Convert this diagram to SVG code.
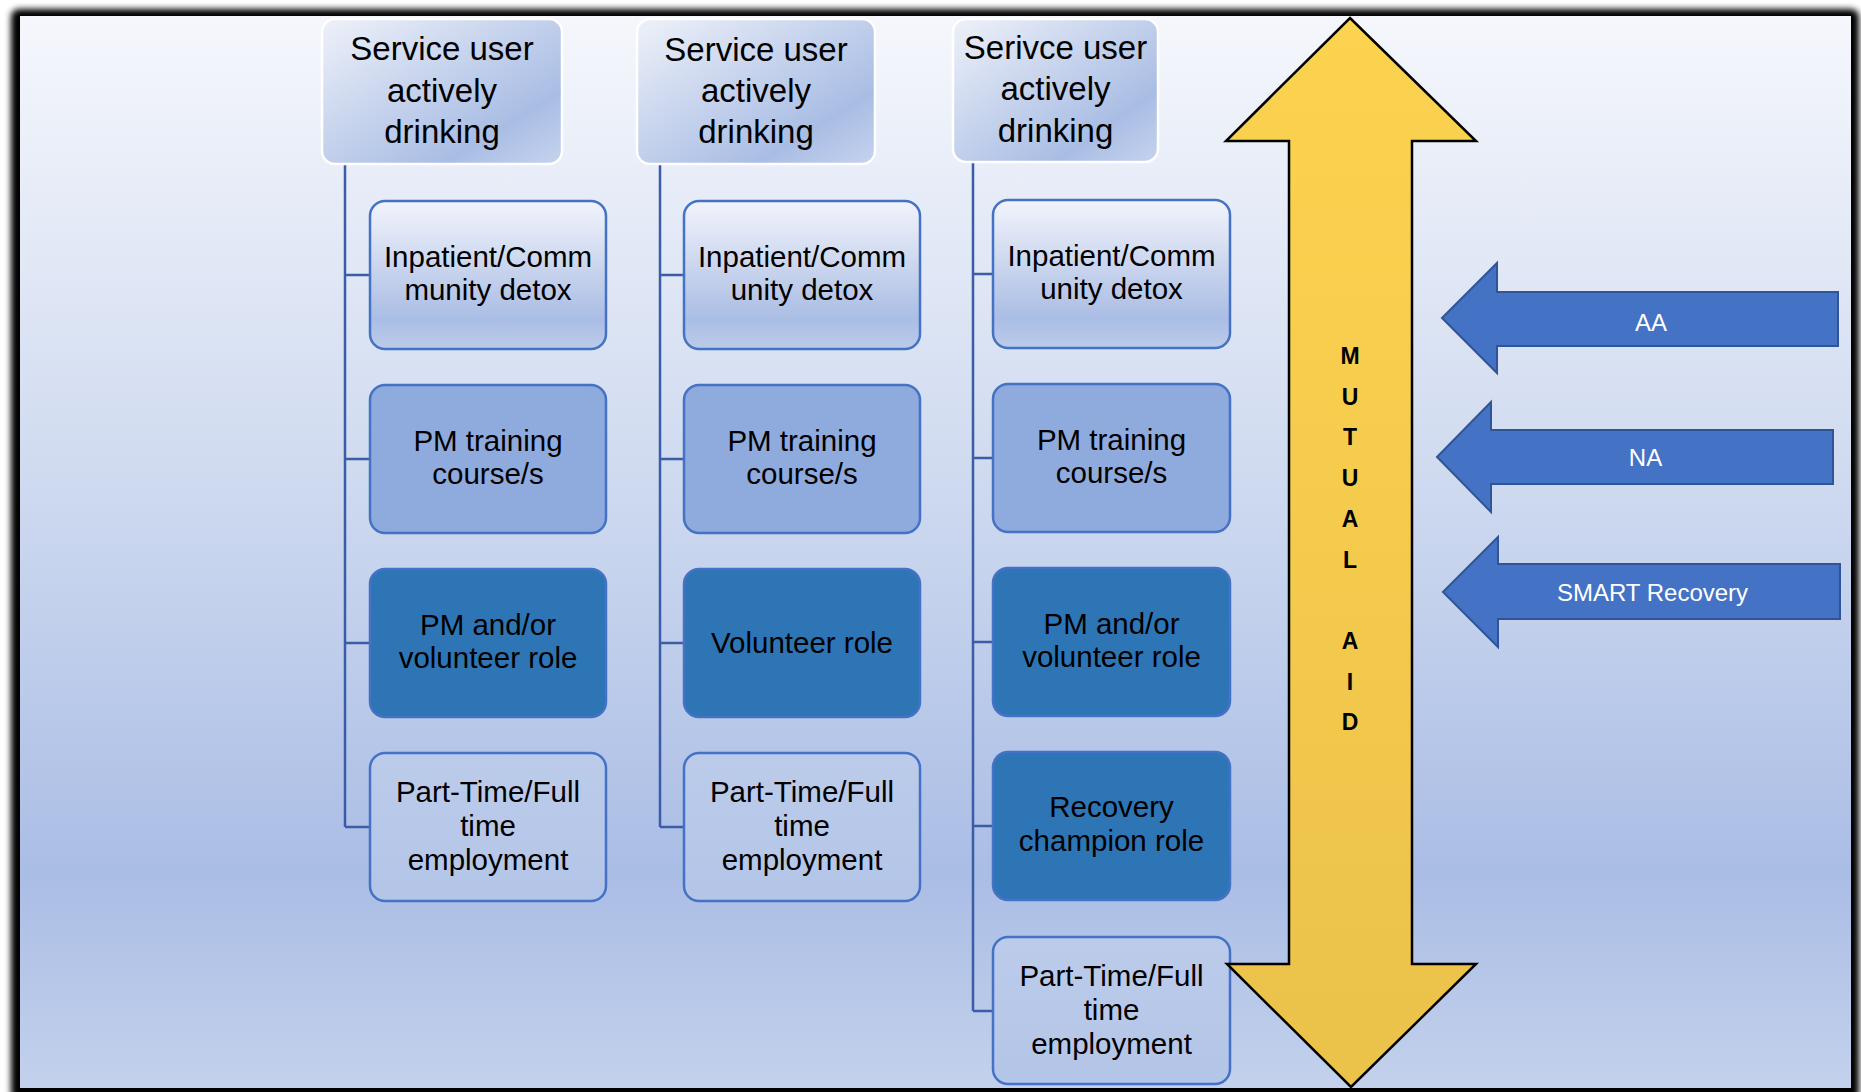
<svg xmlns="http://www.w3.org/2000/svg" width="1861" height="1092" viewBox="0 0 1861 1092">
  <defs>
    <filter id="soft" x="-5%" y="-5%" width="110%" height="110%">
      <feGaussianBlur stdDeviation="3"/>
    </filter>
    <linearGradient id="gBg" x1="0" y1="0" x2="0" y2="1">
      <stop offset="0" stop-color="#f5f7fc"/>
      <stop offset="0.42" stop-color="#d0dbf0"/>
      <stop offset="0.8" stop-color="#aabde5"/>
      <stop offset="1" stop-color="#c3d1ec"/>
    </linearGradient>
    <linearGradient id="gTop" x1="0" y1="0" x2="1" y2="1">
      <stop offset="0" stop-color="#eef1f9"/>
      <stop offset="0.75" stop-color="#a9bde4"/>
      <stop offset="1" stop-color="#c6d3ee"/>
    </linearGradient>
    <linearGradient id="gLight" x1="0" y1="0" x2="0" y2="1">
      <stop offset="0" stop-color="#f2f4fb"/>
      <stop offset="0.8" stop-color="#aabde4"/>
      <stop offset="1" stop-color="#bccbea"/>
    </linearGradient>
    <linearGradient id="gPart" x1="0" y1="0" x2="0" y2="1">
      <stop offset="0" stop-color="#bccbea"/>
      <stop offset="1" stop-color="#b3c5e8"/>
    </linearGradient>
    <linearGradient id="gGold" x1="0" y1="0" x2="0" y2="1">
      <stop offset="0" stop-color="#fcd34f"/>
      <stop offset="1" stop-color="#ebc24a"/>
    </linearGradient>
    <style>
      .top { fill: url(#gTop); stroke: #ffffff; stroke-width: 2.5; }
      .light { fill: url(#gLight); stroke: #4472c4; stroke-width: 2.5; }
      .part { fill: url(#gPart); stroke: #4472c4; stroke-width: 2.5; }
      .mid { fill: #8faadc; stroke: #4472c4; stroke-width: 2.5; }
      .dark { fill: #2e75b6; stroke: #4472c4; stroke-width: 2.5; }
      .link { fill: none; stroke: #3b5ca6; stroke-width: 2.5; }
      text { font-family: "Liberation Sans", Arial, sans-serif; fill: #000000; text-anchor: middle; }
      .th { font-size: 33px; }
      .tc { font-size: 29.5px; }
      .side { fill: #4472c4; stroke: #2f5597; stroke-width: 2; }
      .side-t { font-size: 24px; fill: #ffffff; }
      .gold { fill: url(#gGold); stroke: #000000; stroke-width: 2.5; stroke-linejoin: miter; }
      .ma { font-size: 23px; font-weight: bold; }
    </style>
  </defs>

  <!-- picture frame and background -->
  <rect x="11" y="9" width="1848" height="1092" rx="8" fill="#000000" filter="url(#soft)"/>
  <rect x="20" y="16" width="1831" height="1072" fill="url(#gBg)"/>

  <!-- connectors -->
  <g id="connectors">
    <path class="link" d="M345 164 V827 M345 275 H370 M345 459 H370 M345 643 H370 M345 827 H370"/>
    <path class="link" d="M660 164 V827 M660 275 H684 M660 459 H684 M660 643 H684 M660 827 H684"/>
    <path class="link" d="M973 162 V1011 M973 274 H993 M973 458 H993 M973 642 H993 M973 826 H993 M973 1011 H993"/>
  </g>

  <!-- column 1 -->
  <g id="c1-head">
    <rect class="top" x="322" y="19" width="240" height="145" rx="13"/>
    <text class="th" x="442" y="60">Service user</text>
    <text class="th" x="442" y="102">actively</text>
    <text class="th" x="442" y="143">drinking</text>
  </g>
  <g id="c1-detox">
    <rect class="light" x="370" y="201" width="236" height="148" rx="15"/>
    <text class="tc" x="488" y="267">Inpatient/Comm</text>
    <text class="tc" x="488" y="300">munity detox</text>
  </g>
  <g id="c1-training">
    <rect class="mid" x="370" y="385" width="236" height="148" rx="15"/>
    <text class="tc" x="488" y="451">PM training</text>
    <text class="tc" x="488" y="484">course/s</text>
  </g>
  <g id="c1-role">
    <rect class="dark" x="370" y="569" width="236" height="148" rx="15"/>
    <text class="tc" x="488" y="635">PM and/or</text>
    <text class="tc" x="488" y="668">volunteer role</text>
  </g>
  <g id="c1-employment">
    <rect class="part" x="370" y="753" width="236" height="148" rx="15"/>
    <text class="tc" x="488" y="802">Part-Time/Full</text>
    <text class="tc" x="488" y="836">time</text>
    <text class="tc" x="488" y="870">employment</text>
  </g>

  <!-- column 2 -->
  <g id="c2-head">
    <rect class="top" x="637" y="19" width="238" height="145" rx="13"/>
    <text class="th" x="756" y="61">Service user</text>
    <text class="th" x="756" y="102">actively</text>
    <text class="th" x="756" y="143">drinking</text>
  </g>
  <g id="c2-detox">
    <rect class="light" x="684" y="201" width="236" height="148" rx="15"/>
    <text class="tc" x="802" y="267">Inpatient/Comm</text>
    <text class="tc" x="802" y="300">unity detox</text>
  </g>
  <g id="c2-training">
    <rect class="mid" x="684" y="385" width="236" height="148" rx="15"/>
    <text class="tc" x="802" y="451">PM training</text>
    <text class="tc" x="802" y="484">course/s</text>
  </g>
  <g id="c2-role">
    <rect class="dark" x="684" y="569" width="236" height="148" rx="15"/>
    <text class="tc" x="802" y="653">Volunteer role</text>
  </g>
  <g id="c2-employment">
    <rect class="part" x="684" y="753" width="236" height="148" rx="15"/>
    <text class="tc" x="802" y="802">Part-Time/Full</text>
    <text class="tc" x="802" y="836">time</text>
    <text class="tc" x="802" y="870">employment</text>
  </g>

  <!-- column 3 -->
  <g id="c3-head">
    <rect class="top" x="953" y="19" width="205" height="143" rx="13"/>
    <text class="th" x="1055.5" y="59">Serivce user</text>
    <text class="th" x="1055.5" y="100">actively</text>
    <text class="th" x="1055.5" y="142">drinking</text>
  </g>
  <g id="c3-detox">
    <rect class="light" x="993" y="200" width="237" height="148" rx="15"/>
    <text class="tc" x="1111.5" y="266">Inpatient/Comm</text>
    <text class="tc" x="1111.5" y="299">unity detox</text>
  </g>
  <g id="c3-training">
    <rect class="mid" x="993" y="384" width="237" height="148" rx="15"/>
    <text class="tc" x="1111.5" y="450">PM training</text>
    <text class="tc" x="1111.5" y="483">course/s</text>
  </g>
  <g id="c3-role">
    <rect class="dark" x="993" y="568" width="237" height="148" rx="15"/>
    <text class="tc" x="1111.5" y="634">PM and/or</text>
    <text class="tc" x="1111.5" y="667">volunteer role</text>
  </g>
  <g id="c3-champion">
    <rect class="dark" x="993" y="752" width="237" height="148" rx="15"/>
    <text class="tc" x="1111.5" y="817">Recovery</text>
    <text class="tc" x="1111.5" y="851">champion role</text>
  </g>
  <g id="c3-employment">
    <rect class="part" x="993" y="937" width="237" height="147" rx="15"/>
    <text class="tc" x="1111.5" y="986">Part-Time/Full</text>
    <text class="tc" x="1111.5" y="1020">time</text>
    <text class="tc" x="1111.5" y="1054">employment</text>
  </g>

  <!-- mutual aid double arrow -->
  <g id="mutual-aid">
    <polygon class="gold" points="1350,18 1476,141 1412,141 1412,964 1476,964 1351,1087 1227,964 1289,964 1289,141 1226,141"/>
    <text class="ma" x="1350" y="364">M</text>
    <text class="ma" x="1350" y="404.5">U</text>
    <text class="ma" x="1350" y="445">T</text>
    <text class="ma" x="1350" y="486">U</text>
    <text class="ma" x="1350" y="527">A</text>
    <text class="ma" x="1350" y="567.5">L</text>
    <text class="ma" x="1350" y="649">A</text>
    <text class="ma" x="1350" y="689.5">I</text>
    <text class="ma" x="1350" y="730">D</text>
  </g>

  <!-- mutual aid groups pointing in -->
  <g id="aa">
    <polygon class="side" points="1442,318 1497,263 1497,292 1838,292 1838,346 1497,346 1497,373"/>
    <text class="side-t" x="1651" y="331">AA</text>
  </g>
  <g id="na">
    <polygon class="side" points="1437,457 1491,402 1491,430 1833,430 1833,484 1491,484 1491,512"/>
    <text class="side-t" x="1645.5" y="466">NA</text>
  </g>
  <g id="smart">
    <polygon class="side" points="1443,592 1498,537 1498,564 1840,564 1840,619 1498,619 1498,647"/>
    <text class="side-t" x="1652.5" y="601">SMART Recovery</text>
  </g>
</svg>
